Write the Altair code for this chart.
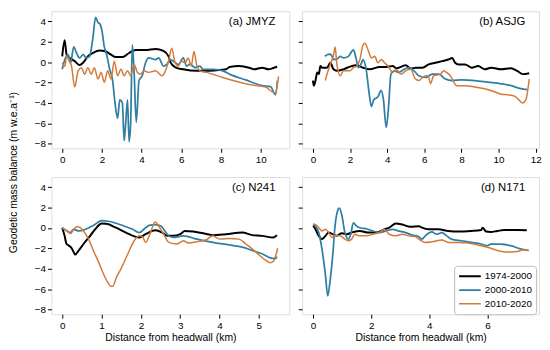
import altair as alt
import pandas as pd

periods = ["1974-2000", "2000-2010", "2010-2020"]
colors = ["#000000", "#2f7fa3", "#d27a3a"]
widths = [2.0, 1.5, 1.5]

# ---------------- (a) JMYZ ----------------
a_x_1974 = [0.0, 0.12, 0.22, 0.38, 0.63, 0.88, 1.05, 1.29, 1.54, 1.88, 2.2, 2.46, 2.7, 3.04, 3.37, 3.7, 4.2,
            4.7, 5.1, 5.36, 5.45, 5.7, 6.1, 6.77, 7.26, 7.76, 8.26, 8.43, 8.92, 9.42, 9.67, 10.08, 10.4, 10.67, 10.83]
a_y_1974 = [0.57, 2.16, 0.73, 0.42, 0.1, -0.28, -0.06, 0.57, 0.9, 1.15, 1.05, 0.73, 0.5, 0.5, 0.9, 1.2, 1.2,
            1.3, 1.1, 0.57, 0.0, -0.5, -0.7, -0.85, -0.85, -0.79, -0.7, -0.47, -0.38, -0.54, -0.7, -0.54, -0.7, -0.54, -0.44]
a_x_2000 = [0.0, 0.13, 0.3, 0.42, 0.58, 0.72, 0.88, 1.05, 1.21, 1.38, 1.54, 1.68, 1.8, 1.9, 2.0, 2.12, 2.24, 2.37,
            2.54, 2.66, 2.79, 2.9, 3.03, 3.12, 3.2, 3.29, 3.37, 3.45, 3.53, 3.62, 3.73, 3.87, 4.03, 4.2, 4.36, 4.7,
            4.86, 5.1, 5.27, 5.44, 5.6, 5.86, 6.1, 6.27, 6.44, 6.69, 6.94, 7.1, 7.6, 8.1, 8.43, 9.25, 10.08, 10.5,
            10.75, 10.85]
a_y_2000 = [-0.7, 0.26, 0.73, -0.06, 1.5, 0.9, 0.42, 0.73, 0.42, 0.57, 2.3, 4.4, 3.9, 3.75, 3.1, 1.5, 0.73, -0.54,
            -1.8, -4.0, -5.5, -3.7, -4.0, -7.7, -5.9, -3.7, -7.8, -5.9, 1.7, -0.85, -5.9, -1.8, -1.33, -0.06, 0.42, 0.26,
            0.42, -0.38, -0.22, 0.26, 0.1, -0.22, 0.42, -0.38, -0.2, -0.54, -0.38, -0.7, -0.7, -0.85, -1.17, -1.74, -2.3, -2.4,
            -3.2, -1.8]
a_x_2010 = [0.0, 0.13, 0.22, 0.38, 0.46, 0.63, 0.8, 0.96, 1.13, 1.29, 1.46, 1.62, 1.8, 1.96, 2.12, 2.29, 2.46, 2.62,
            2.79, 2.96, 3.12, 3.29, 3.45, 3.62, 3.79, 3.95, 4.12, 4.36, 4.7, 5.03, 5.2, 5.36, 5.52, 5.69, 5.86, 6.0,
            6.19, 6.35, 6.5, 6.64, 6.77, 6.94, 7.26, 8.1, 8.93, 9.75, 10.25, 10.58, 10.75, 10.9]
a_y_2010 = [-0.06, -0.4, 0.57, 0.0, -0.3, -2.44, -0.85, -0.54, -1.17, -0.54, -1.17, -0.54, -1.65, -1.0, -1.96, -0.85,
            -1.65, 0.1, -1.33, -0.7, -1.33, -0.85, -1.33, -0.22, -1.0, -1.17, -0.85, -1.0, -0.85, -1.33, -0.85, 0.1,
            1.37, -0.06, -0.38, 0.1, -0.06, 0.42, -0.38, 1.05, -0.22, -0.85, -1.0, -1.5, -1.96, -2.3, -2.44, -2.9, -3.0, -1.4]

# ---------------- (b) ASJG ----------------
b_x_1974 = [0.0, 0.05, 0.14, 0.23, 0.32, 0.4, 0.5, 0.76, 0.94, 1.11, 1.29, 1.65, 2.0, 2.35, 2.7, 3.06, 3.59, 3.95,
            4.3, 4.48, 5.0, 5.27, 5.54, 5.9, 6.24, 6.6, 6.96, 7.3, 7.5, 7.66, 7.84, 8.2, 8.55, 8.9, 9.26, 9.6, 10.14,
            10.67, 11.0, 11.3, 11.65]
b_y_1974 = [-1.8, -2.3, -1.8, -1.0, -1.17, -0.38, -0.54, -0.54, -0.06, -0.7, -0.85, -0.7, -0.44, -0.31, -0.54, -0.7,
            -0.47, -0.47, -0.38, -0.6, -0.31, -0.63, -0.54, -0.54, -0.22, -0.06, 0.1, 0.26, 0.42, -0.06, -0.22, -0.22,
            -0.54, -0.38, -0.7, -0.54, -0.7, -0.6, -0.85, -1.17, -1.08]
b_x_2000 = [0.64, 0.76, 0.94, 1.03, 1.11, 1.29, 1.47, 1.65, 1.91, 2.18, 2.32, 2.44, 2.62, 2.7, 2.88, 3.03, 3.15,
            3.27, 3.5, 3.68, 3.8, 3.95, 4.09, 4.2, 4.39, 4.6, 4.92, 5.18, 5.45, 5.7, 6.07, 6.43, 6.78, 7.13, 7.5, 8.0,
            8.73, 9.43, 10.14, 10.67, 11.2, 11.55]
b_y_2000 = [0.57, 0.73, 0.8, 0.57, 0.26, 0.3, 0.57, 0.42, 0.57, 1.2, 0.42, -0.54, -0.06, 0.26, -0.85, -3.08, -4.35,
            -3.7, -3.4, -2.76, -3.7, -6.4, -4.0, -1.17, -0.85, -1.0, -0.7, -0.54, -0.85, -1.33, -1.5, -1.17, -1.17,
            -1.65, -1.8, -1.74, -1.8, -1.96, -2.12, -2.3, -2.6, -2.7]
b_x_2010 = [0.67, 0.76, 0.94, 1.11, 1.2, 1.29, 1.47, 1.65, 2.0, 2.18, 2.35, 2.53, 2.7, 2.8, 2.97, 3.15, 3.33, 3.5,
            3.68, 3.86, 4.04, 4.3, 4.48, 4.74, 5.0, 5.27, 5.5, 5.72, 5.9, 6.2, 6.34, 6.5, 6.87, 7.04, 7.2, 7.4, 7.75,
            8.2, 8.73, 9.26, 9.79, 10.14, 10.5, 10.85, 11.1, 11.3, 11.47, 11.65]
b_y_2010 = [-1.8, -1.17, -0.2, 0.7, 1.5, -0.22, -1.33, -0.85, -0.85, -0.54, -0.4, 0.26, 1.68, 1.85, 1.2, 0.42, 0.57,
            -0.06, 0.26, -0.06, -0.38, -1.0, -0.7, -1.17, -0.85, -0.7, -1.6, -1.8, -1.5, -1.3, -2.1, -1.33, -1.17, -0.85,
            -1.0, -1.33, -2.3, -2.3, -2.44, -2.6, -2.9, -3.14, -3.2, -3.33, -3.7, -4.0, -3.7, -1.65]

# ---------------- (c) N241 ----------------
c_x_1974 = [0.0, 0.06, 0.11, 0.17, 0.22, 0.27, 0.33, 0.42, 0.54, 0.71, 0.87, 1.0, 1.12, 1.37, 1.62, 1.96, 2.12,
            2.37, 2.54, 2.67, 2.83, 3.0, 3.12, 3.33, 3.58, 3.83, 4.16, 4.58, 4.83, 5.08, 5.37, 5.46]
c_y_1974 = [0.03, -0.77, -1.57, -1.73, -1.88, -2.2, -2.6, -2.2, -1.57, -0.77, 0.03, 0.44, 0.41, 0.03, -0.45, -0.93,
            -0.61, -0.23, -0.45, -0.77, -0.77, -0.61, -0.29, -0.35, -0.52, -0.7, -0.61, -0.45, -0.7, -0.77, -0.93, -0.7]
c_x_2000 = [0.0, 0.12, 0.2, 0.29, 0.42, 0.79, 1.0, 1.17, 1.54, 1.79, 1.96, 2.12, 2.21, 2.37, 2.52, 2.58, 2.71, 2.83,
            3.08, 3.42, 3.83, 4.25, 4.58, 4.83, 5.08, 5.29, 5.42, 5.46]
c_y_2000 = [0.0, -0.29, -0.45, -0.13, -0.29, 0.25, 0.73, 0.66, 0.25, -0.13, -0.45, 0.03, 0.25, 0.34, 0.18, -0.13,
            -0.77, -0.93, -0.77, -1.09, -1.41, -1.66, -1.88, -2.2, -2.52, -2.93, -3.0, -2.8]
c_x_2010 = [0.0, 0.12, 0.21, 0.29, 0.37, 0.46, 0.54, 0.67, 0.79, 0.92, 1.04, 1.17, 1.23, 1.29, 1.37, 1.5, 1.67, 1.83,
            1.96, 2.04, 2.12, 2.21, 2.29, 2.36, 2.46, 2.58, 2.71, 2.92, 3.08, 3.21, 3.42, 3.67, 3.83, 4.0, 4.25, 4.5,
            4.67, 4.83, 5.0, 5.17, 5.29, 5.37, 5.48]
c_y_2010 = [0.03, -0.29, -0.55, -0.13, 0.12, 0.03, -0.29, -1.09, -2.2, -3.3, -4.43, -5.4, -5.7, -5.7, -4.9, -3.95,
            -2.52, -1.25, -0.77, -0.85, -1.41, -0.77, 0.03, 0.6, 0.15, -0.61, -1.41, -1.57, -1.25, -1.47, -1.35, -1.15,
            -0.77, -1.09, -1.02, -1.09, -1.57, -2.04, -2.62, -3.16, -3.4, -3.26, -1.98]

# ---------------- (d) N171 ----------------
d_x_1974 = [0.01, 0.09, 0.2, 0.31, 0.43, 0.54, 0.82, 0.99, 1.16, 1.39, 1.61, 1.89, 2.17, 2.45, 2.62, 2.85, 3.07,
            3.35, 3.64, 3.75, 3.97, 4.31, 4.65, 4.99, 5.44, 5.78, 5.83, 5.95, 6.11, 6.34, 6.56, 7.01, 7.35]
d_y_1974 = [0.25, -0.13, -0.77, -1.09, -0.77, -0.45, -0.77, -0.52, -0.61, -0.39, -0.29, -0.45, -0.45, -0.13, 0.03,
            0.44, 0.34, 0.12, 0.18, 0.03, -0.13, -0.13, -0.29, -0.35, -0.29, -0.2, 0.03, -0.35, -0.39, -0.29, -0.2,
            -0.2, -0.23]
d_x_2000 = [0.01, 0.09, 0.2, 0.31, 0.43, 0.51, 0.59, 0.69, 0.76, 0.84, 0.91, 0.99, 1.1, 1.22, 1.3, 1.39, 1.5, 1.61,
            1.83, 2.06, 2.28, 2.51, 2.74, 2.96, 3.19, 3.41, 3.64, 3.75, 3.86, 4.09, 4.25, 4.43, 4.6, 4.76, 5.1, 5.44,
            5.78, 6.0, 6.11, 6.45, 6.79, 7.13, 7.41]
d_y_2000 = [0.34, 0.18, -0.45, -2.04, -4.6, -6.66, -5.2, -2.36, 0.18, 1.6, 1.94, 1.3, -0.45, -1.09, -0.61, 0.5, 0.18,
            0.03, -0.07, -0.29, -0.45, -0.29, -0.13, -0.3, -0.45, -0.7, -0.85, -1.09, -0.77, -0.39, -0.61, -0.45, -0.77,
            -1.09, -1.25, -1.41, -1.57, -1.73, -1.57, -1.57, -1.73, -2.04, -2.2]
d_x_2010 = [0.01, 0.09, 0.2, 0.31, 0.43, 0.54, 0.65, 0.76, 0.93, 1.1, 1.22, 1.33, 1.44, 1.61, 1.83, 2.06, 2.28, 2.45,
            2.62, 2.85, 3.07, 3.3, 3.52, 3.64, 3.86, 4.09, 4.43, 4.65, 4.99, 5.33, 5.66, 6.0, 6.34, 6.68, 7.01, 7.24, 7.41]
d_y_2010 = [0.4, 0.34, 0.03, -0.29, -0.13, -0.45, -0.93, -0.77, -0.77, -1.09, -1.25, -1.09, -0.61, -0.77, -0.77,
            -0.61, -0.45, -0.13, -0.61, -0.77, -0.61, -0.77, -0.83, -1.09, -1.41, -1.35, -1.18, -1.41, -1.41, -1.47,
            -1.66, -1.88, -2.2, -2.36, -2.3, -2.14, -2.2]

y_ticks = [-8, -6, -4, -2, 0, 2, 4]
y_domain = [-8.45, 5.0]
FONT = "Liberation Sans"
H = 139


def long_df(series):
    rows = []
    for period, (xs, ys) in zip(periods, series):
        for xv, yv in zip(xs, ys):
            rows.append({"period": period, "x": xv, "y": yv})
    return pd.DataFrame(rows)


def panel(series, label, xdom, xticks, w, left, top, bottom, legend):
    df = long_df(series)
    if legend:
        leg = alt.Legend(title=None, orient="none", legendX=154, legendY=90,
                         symbolType="stroke", symbolSize=480, clipHeight=13,
                         labelFontSize=10, labelFont=FONT,
                         labelColor="black", strokeColor="#bbbbbb", fillColor="white",
                         padding=4, cornerRadius=3, rowPadding=1, labelOffset=3)
    else:
        leg = None
    xaxis = alt.Axis(values=xticks, domain=False, tickColor="black", tickSize=4, labelPadding=2,
                     labelFontSize=10, labelFont=FONT, labelColor="black", grid=False,
                     titleFontSize=10.5, titleFont=FONT, titleFontWeight="normal", titleColor="black",
                     titlePadding=3)
    if left and top:
        yaxis = alt.Axis(values=y_ticks, domain=False, tickColor="black", tickSize=4, labelPadding=2,
                         labelFontSize=10, labelFont=FONT, labelColor="black", grid=False,
                         titleFontSize=10.5, titleFont=FONT, titleFontWeight="normal", titleColor="black",
                         titleX=-33, titleY=163)
    else:
        yaxis = alt.Axis(values=y_ticks, domain=False, tickColor="black", tickSize=4, labelPadding=2,
                         labelFontSize=10, labelFont=FONT, labelColor="black", grid=False, labels=left)
    lines = alt.Chart(df).mark_line(interpolate="monotone", clip=True).encode(
        x=alt.X("x:Q", scale=alt.Scale(domain=xdom, nice=False, zero=False), axis=xaxis,
                title="Distance from headwall (km)" if bottom else None),
        y=alt.Y("y:Q", scale=alt.Scale(domain=y_domain, nice=False, zero=False), axis=yaxis,
                title="Geodetic mass balance (m w.e.a⁻¹)" if (left and top) else None),
        color=alt.Color("period:N", scale=alt.Scale(domain=periods, range=colors), legend=leg),
        strokeWidth=alt.StrokeWidth("period:N", scale=alt.Scale(domain=periods, range=widths), legend=leg),
    )
    text = alt.Chart(pd.DataFrame({"label": [label]})).mark_text(
        align="right", baseline="middle", fontSize=11.5, font=FONT, color="black"
    ).encode(text="label:N", x=alt.value(w - 14), y=alt.value(11))
    return alt.layer(lines, text).properties(width=w, height=H)


pa = panel([(a_x_1974, a_y_1974), (a_x_2000, a_y_2000), (a_x_2010, a_y_2010)], "(a) JMYZ",
           [-0.545, 11.445], [0, 2, 4, 6, 8, 10], 241, True, True, False, False)
pb = panel([(b_x_1974, b_y_1974), (b_x_2000, b_y_2000), (b_x_2010, b_y_2010)], "(b) ASJG",
           [-0.58, 12.18], [0, 2, 4, 6, 8, 10, 12], 240, False, True, False, False)
pc = panel([(c_x_1974, c_y_1974), (c_x_2000, c_y_2000), (c_x_2010, c_y_2010)], "(c) N241",
           [-0.275, 5.775], [0, 1, 2, 3, 4, 5], 241, True, False, True, False)
pd_ = panel([(d_x_1974, d_y_1974), (d_x_2000, d_y_2000), (d_x_2010, d_y_2010)], "(d) N171",
            [-0.37, 7.77], [0, 2, 4, 6], 240, False, False, True, True)

chart = alt.concat(pa, pb, pc, pd_, columns=2, spacing={"row": 29, "column": 13}, bounds="flush",
                   padding={"left": 0, "top": 0, "right": 0, "bottom": 0}).resolve_scale(
    color="independent", strokeWidth="independent"
).configure_view(stroke="#222222", strokeWidth=1).configure(font=FONT, background="white")

chart.save("out.html", embed_options={"renderer": "svg", "actions": False})
